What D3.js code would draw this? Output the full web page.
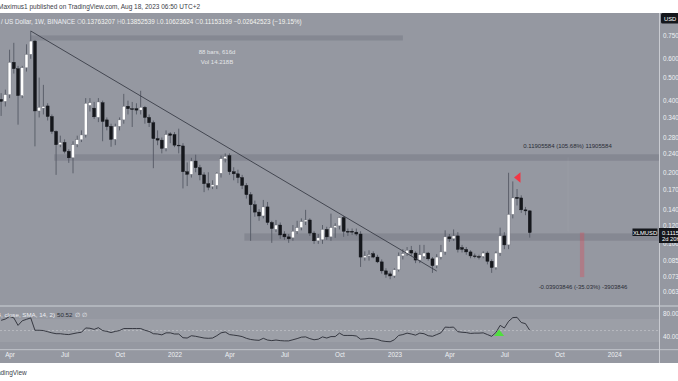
<!DOCTYPE html>
<html><head><meta charset="utf-8">
<script src="https://cdn.jsdelivr.net/npm/d3@7"></script>
<style>
html,body{margin:0;padding:0;background:#fff;overflow:hidden}
svg{display:block;font-family:"Liberation Sans",Arial,sans-serif}
</style></head><body>
<svg id="c" width="678" height="381"></svg>
<script>
// ---- data (weekly XLM/USD, Binance) ----
const firstWeek = "2021-03-22";
const open  = [0.405,0.397,0.424,0.58,0.545,0.42,0.55,0.626,0.712,0.362,0.372,0.38,0.343,0.297,0.261,0.267,0.245,0.23,0.262,0.274,0.287,0.382,0.372,0.34,0.392,0.332,0.312,0.275,0.312,0.332,0.379,0.37,0.37,0.365,0.375,0.34,0.323,0.277,0.273,0.252,0.29,0.288,0.26,0.258,0.201,0.196,0.223,0.209,0.195,0.179,0.174,0.176,0.198,0.228,0.235,0.201,0.197,0.19,0.176,0.161,0.146,0.136,0.131,0.143,0.123,0.115,0.12,0.11,0.107,0.106,0.113,0.117,0.124,0.126,0.111,0.103,0.104,0.115,0.107,0.117,0.119,0.129,0.113,0.113,0.112,0.110,0.0875,0.089,0.091,0.088,0.084,0.077,0.0748,0.0733,0.0778,0.089,0.091,0.094,0.0915,0.0855,0.0885,0.0915,0.0865,0.081,0.088,0.0925,0.107,0.105,0.108,0.0965,0.0948,0.0925,0.089,0.0885,0.0885,0.0915,0.0845,0.0795,0.0915,0.108,0.099,0.133,0.157,0.156,0.139,0.13763207];
const high  = [0.43,0.445,0.655,0.70,0.56,0.56,0.69,0.785,0.72,0.50,0.466,0.39,0.35,0.30,0.285,0.275,0.25,0.27,0.285,0.30,0.41,0.41,0.395,0.41,0.40,0.34,0.32,0.32,0.34,0.427,0.40,0.395,0.39,0.44,0.38,0.35,0.33,0.30,0.28,0.30,0.295,0.295,0.305,0.265,0.22,0.23,0.237,0.215,0.20,0.20,0.185,0.20,0.235,0.24,0.24,0.21,0.205,0.195,0.18,0.165,0.152,0.14,0.153,0.15,0.125,0.126,0.123,0.113,0.11,0.12,0.125,0.128,0.139,0.128,0.113,0.11,0.12,0.118,0.134,0.122,0.13,0.131,0.116,0.116,0.116,0.113,0.093,0.094,0.093,0.09,0.086,0.079,0.0765,0.079,0.092,0.095,0.097,0.098,0.093,0.099,0.099,0.0925,0.088,0.0905,0.099,0.114,0.11,0.115,0.112,0.099,0.097,0.094,0.091,0.09,0.093,0.093,0.086,0.093,0.117,0.112,0.199,0.183,0.17,0.16,0.143,0.13852539];
const low   = [0.345,0.378,0.41,0.52,0.317,0.41,0.53,0.60,0.257,0.34,0.35,0.33,0.29,0.195,0.255,0.24,0.219,0.198,0.255,0.268,0.28,0.36,0.335,0.325,0.27,0.30,0.256,0.26,0.30,0.32,0.35,0.31,0.35,0.35,0.32,0.31,0.208,0.26,0.24,0.245,0.265,0.255,0.24,0.171,0.175,0.19,0.20,0.185,0.165,0.168,0.17,0.17,0.19,0.22,0.195,0.185,0.18,0.17,0.155,0.103,0.13,0.125,0.128,0.12,0.101,0.112,0.105,0.104,0.101,0.103,0.11,0.114,0.12,0.108,0.10,0.10,0.10,0.104,0.103,0.106,0.115,0.107,0.108,0.109,0.108,0.080,0.085,0.085,0.087,0.083,0.075,0.072,0.071,0.072,0.0765,0.086,0.089,0.089,0.083,0.083,0.087,0.085,0.0755,0.079,0.086,0.090,0.102,0.103,0.092,0.092,0.090,0.087,0.087,0.086,0.087,0.082,0.0755,0.078,0.089,0.095,0.095,0.128,0.145,0.135,0.132,0.10623624];
const close = [0.397,0.424,0.58,0.545,0.42,0.55,0.626,0.712,0.362,0.375,0.378,0.343,0.297,0.261,0.267,0.245,0.23,0.261,0.274,0.287,0.39,0.392,0.342,0.395,0.327,0.311,0.275,0.312,0.332,0.379,0.37,0.367,0.365,0.375,0.34,0.323,0.277,0.273,0.252,0.288,0.286,0.26,0.258,0.201,0.196,0.223,0.209,0.195,0.179,0.173,0.177,0.198,0.228,0.233,0.201,0.197,0.19,0.176,0.161,0.146,0.136,0.131,0.143,0.123,0.116,0.12,0.109,0.107,0.105,0.113,0.117,0.124,0.126,0.111,0.103,0.106,0.115,0.107,0.117,0.119,0.129,0.113,0.112,0.112,0.110,0.088,0.089,0.090,0.088,0.084,0.077,0.0745,0.0733,0.0778,0.089,0.091,0.094,0.0915,0.0855,0.090,0.0915,0.0865,0.081,0.088,0.0925,0.107,0.105,0.108,0.0948,0.0948,0.0925,0.089,0.0885,0.088,0.0915,0.0845,0.0795,0.0915,0.108,0.099,0.133,0.156,0.155,0.139,0.1376,0.11153199];
const rsi   = [67.8,70,74.5,72,59,67,69.5,72,50.5,50.5,50,48,46,44.5,44.5,43.5,43,44.5,46,47,54.5,54,52,55,50,48.5,46.5,48.5,50,53.5,53.5,53.5,53.5,53.5,50.5,48.5,44.5,44,42.5,46,46,44,44,37.5,37,41,40,38.5,37,36.5,37,41,46,47.5,43,42,41,39.5,36.5,34.5,33.5,33,36.5,33.5,32.5,33.5,32.5,32,32,34,36,38.5,39,36,34,35,39,37,39.5,39.5,45.5,41.5,41.5,41.5,40.5,35,35.5,36.5,36,34.5,32,31,30.5,34,41.5,43,45.5,44,42,45.5,44.5,41,40,43,46,56,55.5,56,48,47,46.5,45,45.5,45.5,46,43,40,46.5,59,54.5,66,72.5,73,64,62,50.52];

const priceTicks = [0.75,0.6,0.5,0.4,0.34,0.28,0.24,0.2,0.17,0.14,0.12,0.1,0.085,0.073,0.063];
const rsiTicks = [80,40];
const timeTickDates = ["2021-04-05","2021-07-05","2021-10-04","2022-01-03","2022-04-04","2022-07-04","2022-10-03","2023-01-02","2023-04-03","2023-07-03","2023-10-02","2024-01-01"];
const timeTickLabels = ["Apr","Jul","Oct","2022","Apr","Jul","Oct","2023","Apr","Jul","Oct","2024"];

// drawings (dates / prices)
const trendLine = {d0:"2021-05-10", p0:0.785, d1:"2023-03-13", p1:0.0769};
const rangeBox = {d0:"2021-05-10", d1:"2023-01-16", p0:0.752, p1:0.716};
const zones = [{d0:"2021-06-21", p0:0.238, p1:0.2236},{d0:"2022-05-02", p0:0.1107, p1:0.1031}];
const dropMeasure = {d:"2023-11-06", p0:0.11153199, p1:0.07249353};

// ---- layout ----
const W=678, axisX=659.5, paneTop=13, paneBot=305, rsiTop=307, rsiBot=349, timeBot=363;
const parse = d3.utcParse("%Y-%m-%d");
const start = parse(firstWeek);
const dates = open.map((_,i)=>d3.utcDay.offset(start,7*i));

const x = d3.scaleUtc().domain([parse("2022-01-03"),parse("2023-01-02")]).range([174.5,394.4]);
const y = d3.scaleLog().domain([0.75,0.063]).range([35.7,291.6]);
const yr = d3.scaleLinear().domain([80,40]).range([313.3,336.3]);

const svg = d3.select("#c");
const bg = "#9598a1";
svg.append("rect").attr("x",0).attr("y",0).attr("width",W).attr("height",381).attr("fill","#fff");
svg.append("rect").attr("x",0).attr("y",paneTop).attr("width",W).attr("height",timeBot-paneTop).attr("fill",bg);

const defs = svg.append("defs");
defs.append("clipPath").attr("id","pp").append("rect").attr("x",0).attr("y",paneTop).attr("width",axisX).attr("height",paneBot-paneTop);
defs.append("clipPath").attr("id","rp").append("rect").attr("x",0).attr("y",rsiTop).attr("width",axisX).attr("height",rsiBot-rsiTop);

const pp = svg.append("g").attr("clip-path","url(#pp)");

// zones
zones.forEach(z=>{
  pp.append("rect").attr("x",x(parse(z.d0))-2).attr("y",y(z.p0)).attr("width",axisX-x(parse(z.d0))+2)
    .attr("height",y(z.p1)-y(z.p0)).attr("fill","#858892");
});
pp.append("rect").attr("x",x(parse(rangeBox.d0))).attr("y",y(rangeBox.p0))
  .attr("width",x(parse(rangeBox.d1))-x(parse(rangeBox.d0))).attr("height",y(rangeBox.p1)-y(rangeBox.p0)).attr("fill","#858892");

// faint measure line
pp.append("rect").attr("x",567.5).attr("y",y(0.2317)).attr("width",1.2).attr("height",y(0.11266)-y(0.2317)).attr("fill","rgba(255,255,255,0.04)");

// drop measure
pp.append("rect").attr("x",x(parse(dropMeasure.d))-0.5).attr("y",y(dropMeasure.p0)).attr("width",4.3)
  .attr("height",y(dropMeasure.p1)-y(dropMeasure.p0)).attr("fill","rgba(242,54,69,0.28)");

// candles
const bw=3;
const cg = pp.append("g");
dates.forEach((d,i)=>{
  const cx = x(d), up = close[i]>=open[i];
  cg.append("line").attr("x1",cx).attr("x2",cx).attr("y1",y(high[i])).attr("y2",y(low[i]))
    .attr("stroke","#555964").attr("stroke-width",0.9);
  const t = y(Math.max(open[i],close[i])), b = y(Math.min(open[i],close[i]));
  cg.append("rect").attr("x",cx-bw/2).attr("y",t).attr("width",bw).attr("height",Math.max(0.8,b-t))
    .attr("fill",up?"#ffffff":"#15171c").attr("stroke",up?"#6b6e78":"#15171c").attr("stroke-width",0.4);
});

// trend line
pp.append("line").attr("x1",x(parse(trendLine.d0))).attr("y1",y(trendLine.p0))
  .attr("x2",x(parse(trendLine.d1))).attr("y2",y(trendLine.p1)).attr("stroke","#3a3d47").attr("stroke-width",0.9);

// red marker
const tipX = x(dates[121])+1.2, tipY = y(0.19);
pp.append("path").attr("d",`M${tipX},${tipY} L${tipX+6.5},${tipY-5.3} L${tipX+6.5},${tipY+5.3} Z`).attr("fill","#f23645");

// annotation texts
const ann = pp.append("g").attr("font-size","6px").attr("text-anchor","middle");
ann.append("text").attr("x",217).attr("y",53.5).attr("fill","#e4e5e8").text("88 bars, 616d");
ann.append("text").attr("x",217).attr("y",64).attr("fill","#e4e5e8").text("Vol 14.218B");
ann.append("text").attr("x",567.5).attr("y",148).attr("fill","#2a2d36").text("0.11905584 (105.68%) 11905584");
ann.append("text").attr("x",583).attr("y",289).attr("fill","#2a2d36").text("-0.03903846 (-35.03%) -3903846");

// legend line
const lg = svg.append("text").attr("x",1).attr("y",24).attr("font-size","6.3px").attr("fill","#eceef2");
lg.append("tspan").text("/ US Dollar, 1W, BINANCE  ");
[["O","0.13763207"],["H","0.13852539"],["L","0.10623624"],["C","0.11153199"]].forEach(([k,v])=>{
  lg.append("tspan").attr("fill","#d4d6dc").text(k);
  lg.append("tspan").attr("fill","#f4f4f0").text(v+"  ");
});
lg.append("tspan").attr("fill","#f4f4f0").text("\u22120.02642523 (\u221219.15%)");

// header
svg.append("text").attr("x",-2).attr("y",9).attr("font-size","6.5px").attr("fill","#3b3e47")
  .text("Maximus1 published on TradingView.com, Aug 18, 2023 06:50 UTC+2");
svg.append("text").attr("x",-9).attr("y",375).attr("font-size","6.5px").attr("fill","#3b3e47").text("TradingView");

// RSI pane
const rp = svg.append("g").attr("clip-path","url(#rp)");
rp.append("rect").attr("x",0).attr("y",yr(70)).attr("width",axisX).attr("height",yr(30)-yr(70)).attr("fill","rgba(255,255,255,0.07)");
rp.append("line").attr("x1",0).attr("x2",axisX).attr("y1",yr(50)).attr("y2",yr(50))
  .attr("stroke","rgba(255,255,255,0.4)").attr("stroke-width",0.7).attr("stroke-dasharray","2,2");
rp.append("path").datum(rsi).attr("fill","none").attr("stroke","#2a2d36").attr("stroke-width",0.9)
  .attr("d",d3.line().x((v,i)=>x(dates[i])).y(v=>yr(v)));
const gx = x(dates[118])-1, gy = yr(40)-0.2;
rp.append("path").attr("d",`M${gx-5},${gy} L${gx},${gy-6.5} L${gx+5},${gy} Z`).attr("fill","#4fe03c");
svg.append("text").attr("x",55).attr("y",317).attr("font-size","6.2px").attr("text-anchor","end").attr("fill","#eceef2").text("RSI (14, close, SMA, 14, 2)");
svg.append("text").attr("x",57).attr("y",317).attr("font-size","6.2px").attr("fill","#2a2d36").text("50.52");
svg.append("text").attr("x",75).attr("y",317).attr("font-size","6.2px").attr("fill","#eceef2").text("\u2205  \u2205");

// separators
svg.append("rect").attr("x",0).attr("y",305.2).attr("width",W).attr("height",1.6).attr("fill","#b9bcc3");
svg.append("rect").attr("x",0).attr("y",349).attr("width",W).attr("height",1.2).attr("fill","#b9bcc3");
svg.append("rect").attr("x",axisX-0.5).attr("y",paneTop).attr("width",1).attr("height",timeBot-paneTop).attr("fill","#c9cbd1");

// price axis
const ya = svg.append("g").attr("transform",`translate(${axisX},0)`)
  .call(d3.axisRight(y).tickValues(priceTicks).tickFormat(d3.format(".3f")).tickSize(0).tickPadding(3.5));
ya.select(".domain").remove();
ya.selectAll("text").attr("font-size","6.3px").attr("fill","#eef0f3").attr("font-family","Liberation Sans, Arial, sans-serif");

const ra = svg.append("g").attr("transform",`translate(${axisX},0)`)
  .call(d3.axisRight(yr).tickValues(rsiTicks).tickFormat(d3.format(".2f")).tickSize(0).tickPadding(3.5));
ra.select(".domain").remove();
ra.selectAll("text").attr("font-size","6.3px").attr("fill","#eef0f3").attr("font-family","Liberation Sans, Arial, sans-serif");

// time axis
const xa = svg.append("g").attr("transform",`translate(0,350)`)
  .call(d3.axisBottom(x).tickValues(timeTickDates.map(parse)).tickFormat((d,i)=>timeTickLabels[i]).tickSize(0).tickPadding(3));
xa.select(".domain").remove();
xa.selectAll("text").attr("font-size","6.3px").attr("fill","#eef0f3").attr("font-family","Liberation Sans, Arial, sans-serif");

// last price labels
svg.append("rect").attr("x",632.5).attr("y",228.5).attr("width",25).attr("height",7.5).attr("fill","#15171c");
svg.append("text").attr("x",645).attr("y",234.5).attr("text-anchor","middle").attr("font-size","5.8px").attr("fill","#fff").text("XLMUSD");
svg.append("rect").attr("x",659).attr("y",228).attr("width",20).attr("height",15).attr("fill","#15171c");
svg.append("text").attr("x",662).attr("y",234.5).attr("font-size","5.8px").attr("fill","#fff").text("0.11153");
svg.append("text").attr("x",662).attr("y",241.3).attr("font-size","5.8px").attr("fill","#fff").text("2d 20h");
// USD
svg.append("rect").attr("x",661).attr("y",13).attr("width",18).attr("height",10.5).attr("rx",1.5).attr("fill","#15171c");
svg.append("text").attr("x",664).attr("y",20.5).attr("font-size","5.8px").attr("fill","#fff").text("USD");
</script>
</body></html>
